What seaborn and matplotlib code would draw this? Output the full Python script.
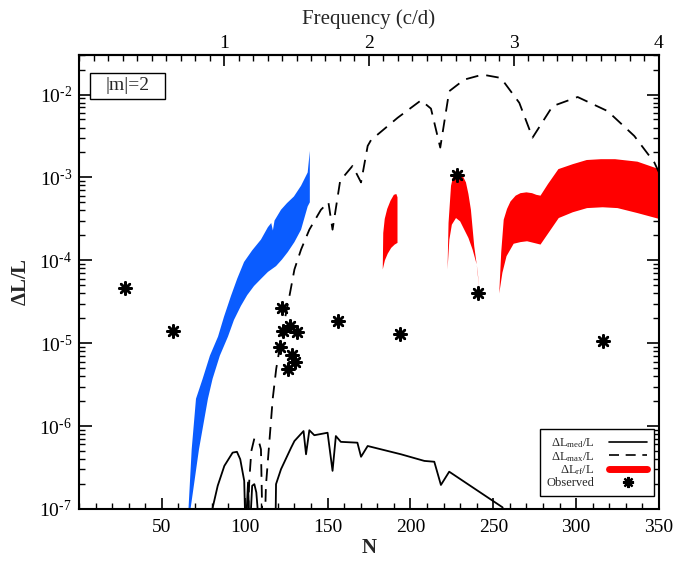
import numpy as np
import matplotlib
matplotlib.use("Agg")
import matplotlib.pyplot as plt
import seaborn as sns
from matplotlib.lines import Line2D
from matplotlib.patches import Rectangle
from matplotlib.ticker import MultipleLocator, LogLocator, FuncFormatter, NullFormatter, FixedLocator

# ---------------- data ----------------
# observed modes (N, dL/L)
obs_N = [27.8, 56.7, 122.3, 122.9, 127.3, 131.4, 121.3, 128.4, 130.3, 125.9,
         156.3, 193.7, 228.3, 240.6, 316.2]
obs_dL = [4.6e-5, 1.40e-5, 2.66e-5, 1.40e-5, 1.60e-5, 1.37e-5, 8.96e-6, 7.16e-6,
          5.96e-6, 4.95e-6, 1.84e-5, 1.28e-5, 1.06e-3, 4.04e-5, 1.06e-5]

# median dL/L (log10)
med_N = [80.0, 80.7, 83.7, 87.7, 92.7, 95.3, 97.3, 99.7, 100.5, 102.0, 103.0, 104.5,
         105.8, 107.0, 109.0, 118.5, 118.9, 121.9, 128.0, 130.0, 135.5, 137.0, 139.0,
         142.0, 150.0, 153.0, 155.0, 158.0, 168.0, 170.2, 174.2, 194.3, 208.4, 214.4,
         218.4, 223.4, 255.6, 258.5]
med_log = [-7.3, -6.98, -6.72, -6.48, -6.32, -6.31, -6.40, -6.66, -7.3, -6.68, -7.3, -6.72,
           -6.70, -6.80, -7.3, -7.3, -6.70, -6.52, -6.26, -6.18, -6.06, -6.34, -6.05,
           -6.11, -6.08, -6.54, -6.12, -6.19, -6.20, -6.37, -6.24, -6.34, -6.42, -6.43,
           -6.71, -6.55, -6.98, -7.3]

# maximum dL/L (log10)
max_N = [101.5, 102.8, 104.0, 105.8, 107.8, 109.0, 109.8, 110.8, 112.0, 112.8, 116.9,
         119.0, 123.0, 127.0, 130.0, 134.0, 139.0, 146.0, 150.5, 153.0, 157.6, 165.1,
         170.2, 174.2, 176.2, 192.3, 206.4, 212.4, 218.0, 223.4, 232.5, 243.5, 254.6,
         265.7, 273.7, 285.8, 300.9, 319.0, 335.1, 347.2, 350.0]
max_log = [-7.3, -6.64, -6.30, -6.15, -6.16, -6.22, -6.28, -7.3, -7.3, -6.72, -5.67,
           -5.31, -4.83, -4.43, -4.11, -3.87, -3.63, -3.39, -3.30, -3.63, -3.04, -2.86,
           -3.06, -2.62, -2.55, -2.28, -2.07, -2.17, -2.64, -1.96, -1.82, -1.76, -1.80,
           -2.10, -2.52, -2.14, -2.03, -2.20, -2.50, -2.82, -2.94]

# blue band, upper / lower edges, log10
blue_up_N = [65.8, 68.0, 70.6, 74.6, 79.0, 83.9, 87.5, 91.7, 95.5, 99.6, 104.5, 109.8,
             114.0, 116.0, 117.0, 118.0, 121.9, 125.5, 129.7, 134.0, 138.0, 139.3]
blue_up_log = [-7.1, -6.28, -5.67, -5.43, -5.15, -4.92, -4.68, -4.43, -4.22, -4.02, -3.88,
               -3.75, -3.60, -3.55, -3.64, -3.52, -3.39, -3.31, -3.23, -3.10, -2.94, -2.68]
blue_lo_N = [66.6, 72.4, 77.8, 80.6, 85.0, 89.9, 93.5, 97.7, 101.5, 105.6, 110.0, 114.0,
             118.9, 122.5, 126.0, 130.0, 134.0, 138.0, 139.3]
blue_lo_log = [-7.1, -6.28, -5.67, -5.43, -5.15, -4.92, -4.72, -4.55, -4.42, -4.31, -4.22,
               -4.14, -4.07, -3.99, -3.90, -3.78, -3.63, -3.35, -3.30]

# red bands (dL_rf/L), log10
red1_up_N = [183.3, 183.6, 184.5, 186.0, 188.0, 190.0, 191.5, 192.2]
red1_up_log = [-4.11, -3.67, -3.50, -3.38, -3.28, -3.21, -3.20, -3.24]
red1_lo_N = [183.3, 184.6, 186.3, 188.4, 190.5, 192.2]
red1_lo_log = [-4.11, -4.00, -3.92, -3.85, -3.81, -3.79]

red2_up_N = [222.4, 223.0, 224.5, 226.0, 227.5, 229.5, 231.5, 233.5, 235.0, 236.5,
             238.5, 240.6, 241.6]
red2_up_log = [-4.11, -3.55, -3.10, -2.97, -2.92, -2.93, -2.98, -3.06, -3.20, -3.39,
               -3.83, -4.14, -4.36]
red2_lo_N = [222.4, 223.5, 225.0, 227.5, 230.0, 232.5, 235.0, 237.5, 240.0, 241.6]
red2_lo_log = [-4.11, -3.75, -3.57, -3.49, -3.53, -3.63, -3.73, -3.87, -4.05, -4.36]

red3_up_N = [253.6, 254.8, 256.3, 258.3, 260.4, 263.5, 266.4, 270.0, 273.4, 276.0,
             278.5, 283.0, 289.3, 298.0, 306.4, 315.0, 323.5, 337.0, 350.0]
red3_up_log = [-4.40, -3.90, -3.51, -3.38, -3.29, -3.22, -3.19, -3.18, -3.19, -3.21,
               -3.22, -3.08, -2.90, -2.84, -2.79, -2.78, -2.78, -2.81, -2.90]
red3_lo_N = [253.6, 255.5, 258.0, 262.3, 266.5, 270.4, 274.5, 278.5, 284.0, 289.5,
             298.0, 306.6, 316.0, 325.0, 337.0, 350.0]
red3_lo_log = [-4.40, -4.15, -3.95, -3.80, -3.78, -3.77, -3.79, -3.81, -3.65, -3.49,
               -3.42, -3.37, -3.36, -3.37, -3.43, -3.50]

x_ticks = [50, 100, 150, 200, 250, 300, 350]
freq_ticks = [1, 2, 3, 4]
N_max = 350.0
f_max = 4.0

legend_labels = [r"$\Delta$L$_{\rm med}$/L", r"$\Delta$L$_{\rm max}$/L",
                 r"$\Delta$L$_{\rm rf}$/L", "Observed"]

# ---------------- style ----------------
sns.set_theme(style="ticks")
plt.rcParams.update({
    "font.family": ["Liberation Serif", "DejaVu Serif"],
    "mathtext.fontset": "custom",
    "mathtext.rm": "Liberation Serif",
    "mathtext.it": "Liberation Serif:italic",
    "mathtext.bf": "Liberation Serif:bold",
    "axes.linewidth": 1.5,
    "axes.edgecolor": "black",
    "xtick.direction": "in",
    "ytick.direction": "in",
    "xtick.color": "black",
    "ytick.color": "black",
    "xtick.labelsize": 14,
    "ytick.labelsize": 14,
    "xtick.major.size": 8,
    "ytick.major.size": 9,
    "xtick.minor.size": 4,
    "ytick.minor.size": 4.5,
    "xtick.major.width": 1.2,
    "ytick.major.width": 1.2,
    "xtick.minor.width": 1.0,
    "ytick.minor.width": 1.0,
})

fig = plt.figure(figsize=(6.77, 5.61), dpi=100)
ax = fig.add_axes([0.1167, 0.0927, 0.8567, 0.8093])

def band(ax, upN, uplog, loN, lolog, color):
    xs = np.r_[upN, loN[::-1]]
    ys = 10.0 ** np.r_[uplog, lolog[::-1]]
    ax.fill(xs, ys, color=color, lw=0, zorder=2)

band(ax, blue_up_N, blue_up_log, blue_lo_N, blue_lo_log, "#0a5cff")
band(ax, red1_up_N, red1_up_log, red1_lo_N, red1_lo_log, "#ff0000")
band(ax, red2_up_N, red2_up_log, red2_lo_N, red2_lo_log, "#ff0000")
band(ax, red3_up_N, red3_up_log, red3_lo_N, red3_lo_log, "#ff0000")

sns.lineplot(x=med_N, y=10.0 ** np.array(med_log), ax=ax, color="black", lw=1.3,
             sort=False, estimator=None, zorder=3)
sns.lineplot(x=max_N, y=10.0 ** np.array(max_log), ax=ax, color="black", lw=1.3,
             sort=False, estimator=None, linestyle=(0, (7, 4.5)), zorder=3)
sns.scatterplot(x=obs_N, y=obs_dL, ax=ax, marker=(8, 2, 0), s=80, color="black",
                edgecolor="black", linewidth=1.8, zorder=4)

ax.set_yscale("log")
ax.set_xlim(0, N_max)
ax.set_ylim(1e-7, 3.0e-2)

ax.xaxis.set_major_locator(FixedLocator(x_ticks))
ax.xaxis.set_minor_locator(MultipleLocator(10))
ax.yaxis.set_major_locator(LogLocator(base=10, numticks=12))
ax.yaxis.set_major_formatter(
    FuncFormatter(lambda v, p: r"$10^{\text{-}%d}$" % int(round(-np.log10(v)))))
ax.yaxis.set_minor_locator(LogLocator(base=10, subs=np.arange(2, 10), numticks=12))
ax.yaxis.set_minor_formatter(NullFormatter())
ax.tick_params(axis="both", which="both", top=False, right=True)
ax.tick_params(axis="x", pad=7)
ax.tick_params(axis="y", pad=5)

for s in ax.spines.values():
    s.set_visible(True)
    s.set_color("black")
    s.set_linewidth(1.5)

ax.set_xlabel("N", fontsize=15, fontweight="bold", labelpad=2)
ax.set_ylabel(r"$\mathbf{\Delta}$L/L", fontsize=15, fontweight="bold", labelpad=6)

secax = ax.secondary_xaxis("top", functions=(lambda n: n * f_max / N_max,
                                             lambda f: f * N_max / f_max))
secax.xaxis.set_major_locator(FixedLocator(freq_ticks))
secax.xaxis.set_minor_locator(MultipleLocator(0.1))
secax.tick_params(axis="x", which="both", direction="in", labelsize=14, pad=2)
secax.tick_params(axis="x", which="major", length=8)
secax.tick_params(axis="x", which="minor", length=4)
secax.set_xlabel("Frequency (c/d)", fontsize=15, labelpad=8)

# |m|=2 box
ax.add_patch(Rectangle((0.019, 0.903), 0.129, 0.057, transform=ax.transAxes,
                       fc="white", ec="black", lw=1.0, zorder=5))
ax.text(0.0836, 0.932, "|m|=2", transform=ax.transAxes, ha="center", va="center",
        fontsize=14, zorder=6)

handles = [
    Line2D([], [], color="black", lw=1.2),
    Line2D([], [], color="black", lw=1.2, linestyle=(0, (6, 4))),
    Line2D([], [], color="#ff0000", lw=5),
    Line2D([], [], color="black", lw=0, marker=(8, 2, 0), markersize=8,
           markeredgewidth=1.6),
]
leg = ax.legend(handles, legend_labels, loc="lower right",
                bbox_to_anchor=(0.991, 0.028), markerfirst=False, fontsize=9,
                frameon=True, fancybox=False, edgecolor="black", framealpha=1,
                handlelength=3.0, labelspacing=0.0, borderpad=0.55, handletextpad=1.2,
                borderaxespad=0)
leg.get_frame().set_linewidth(1.0)
for t in leg.get_texts():
    t.set_ha("right")

fig.savefig("out.png", dpi=100)
